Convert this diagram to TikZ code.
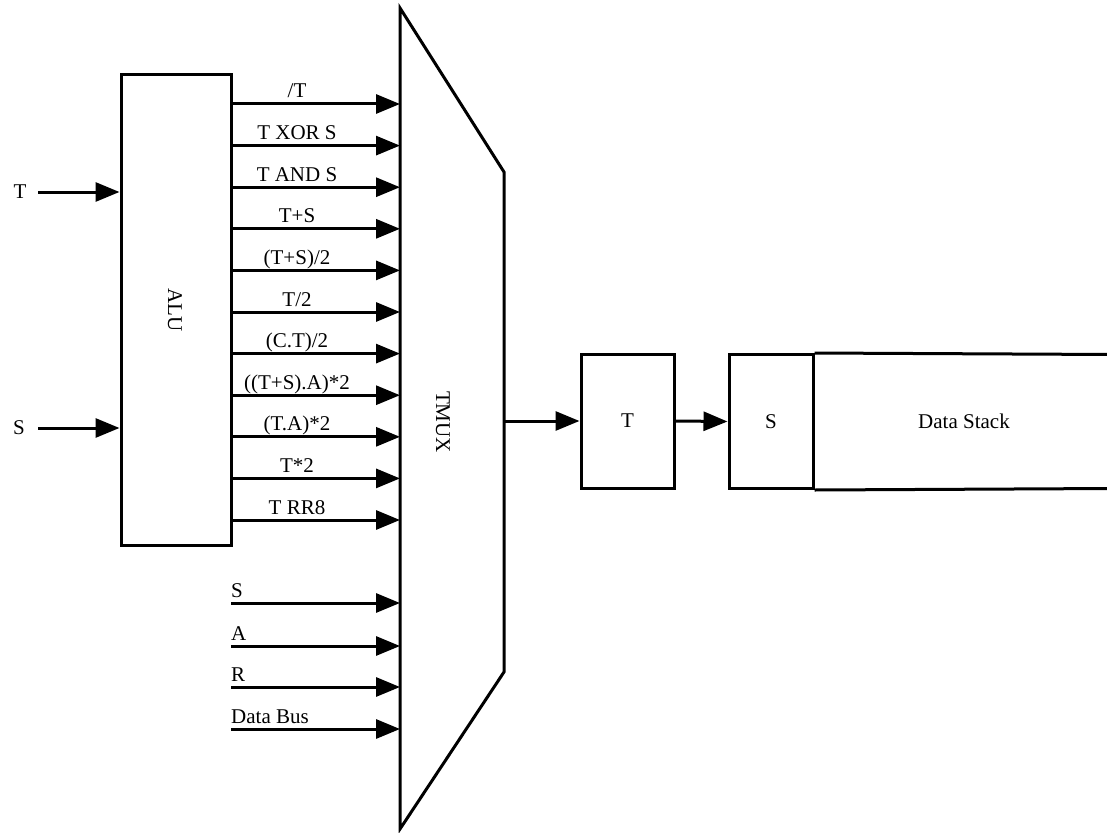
\documentclass[tikz,border=0pt]{standalone}
\usepackage{fontspec}
\setmainfont{Liberation Serif}
\usetikzlibrary{arrows.meta}
\begin{document}
\begin{tikzpicture}[x=1pt,y=-1pt,
  wire/.style={line width=3pt,-{Triangle[length=24pt,width=19pt]}},
  box/.style={draw,line width=3pt,rectangle,inner sep=0pt},
  lbl/.style={font=\fontsize{21}{24}\selectfont,inner sep=0pt},
]
\useasboundingbox (0,0) rectangle (1107,832);
% ALU
\node[box,minimum width=110pt,minimum height=470pt] (alu) at (176,310) {};
\node[lbl,rotate=-90] (alulbl) at (175,310) {ALU};
% MUX
\coordinate (m1) at (400,8);
\coordinate (m2) at (504,172);
\coordinate (m3) at (504,672);
\coordinate (m4) at (400,829);
\draw[line width=3pt,line join=miter] (m1) -- (m2) -- (m3) -- (m4) -- cycle;
\node[lbl,rotate=-90] (muxlbl) at (443,422) {TMUX};
% inputs to ALU
\node[lbl] (tin) at (20,192) {T};
\coordinate (tins) at (38,192);
\draw[wire] (tins) -- (alu.west |- tins);
\node[lbl] (sin) at (19,428) {S};
\coordinate (sins) at (38,428);
\draw[wire] (sins) -- (alu.west |- sins);
% ALU outputs
\foreach \t [count=\i from 0] in {{/T},{T XOR S},{T AND S},{T+S},{(T+S)/2},{T/2},{(C.T)/2},{((T+S).A)*2},{(T.A)*2},{T*2},{T RR8}}{
  \pgfmathsetmacro{\yy}{104+41.6*\i}
  \coordinate (o\i) at (231,\yy);
  \draw[wire] (alu.east |- o\i) -- (m1 |- o\i);
  \node[lbl,anchor=base] (ol\i) at (297,\yy-6) {\t};
}
% other inputs
\foreach \t/\yy [count=\i] in {S/603,A/646,R/687,Data Bus/729}{
  \coordinate (b\i) at (231,\yy);
  \draw[wire] (b\i) -- (m1 |- b\i);
  \node[lbl,anchor=base west] (bl\i) at (231,\yy-6) {\t};
}
% T register and stack
\node[box,minimum width=93pt,minimum height=134pt] (treg) at (627.5,421) {};
\node[lbl] (tlbl) at (treg.center) {T};
\node[box,minimum width=84pt,minimum height=134pt] (sreg) at (771,421.5) {};
\node[lbl] (slbl) at (sreg.center) {S};
\draw[line width=3pt] (sreg.north east) -- (1112,354.5) (sreg.south east) -- (1112,488.5);
\node[lbl] (stk) at (964,421.5) {Data Stack};
\coordinate (mout) at (504,421);
\draw[wire] (mout) -- (treg.west);
\draw[wire] (treg.east) -- (sreg.west);
\end{tikzpicture}
\end{document}
